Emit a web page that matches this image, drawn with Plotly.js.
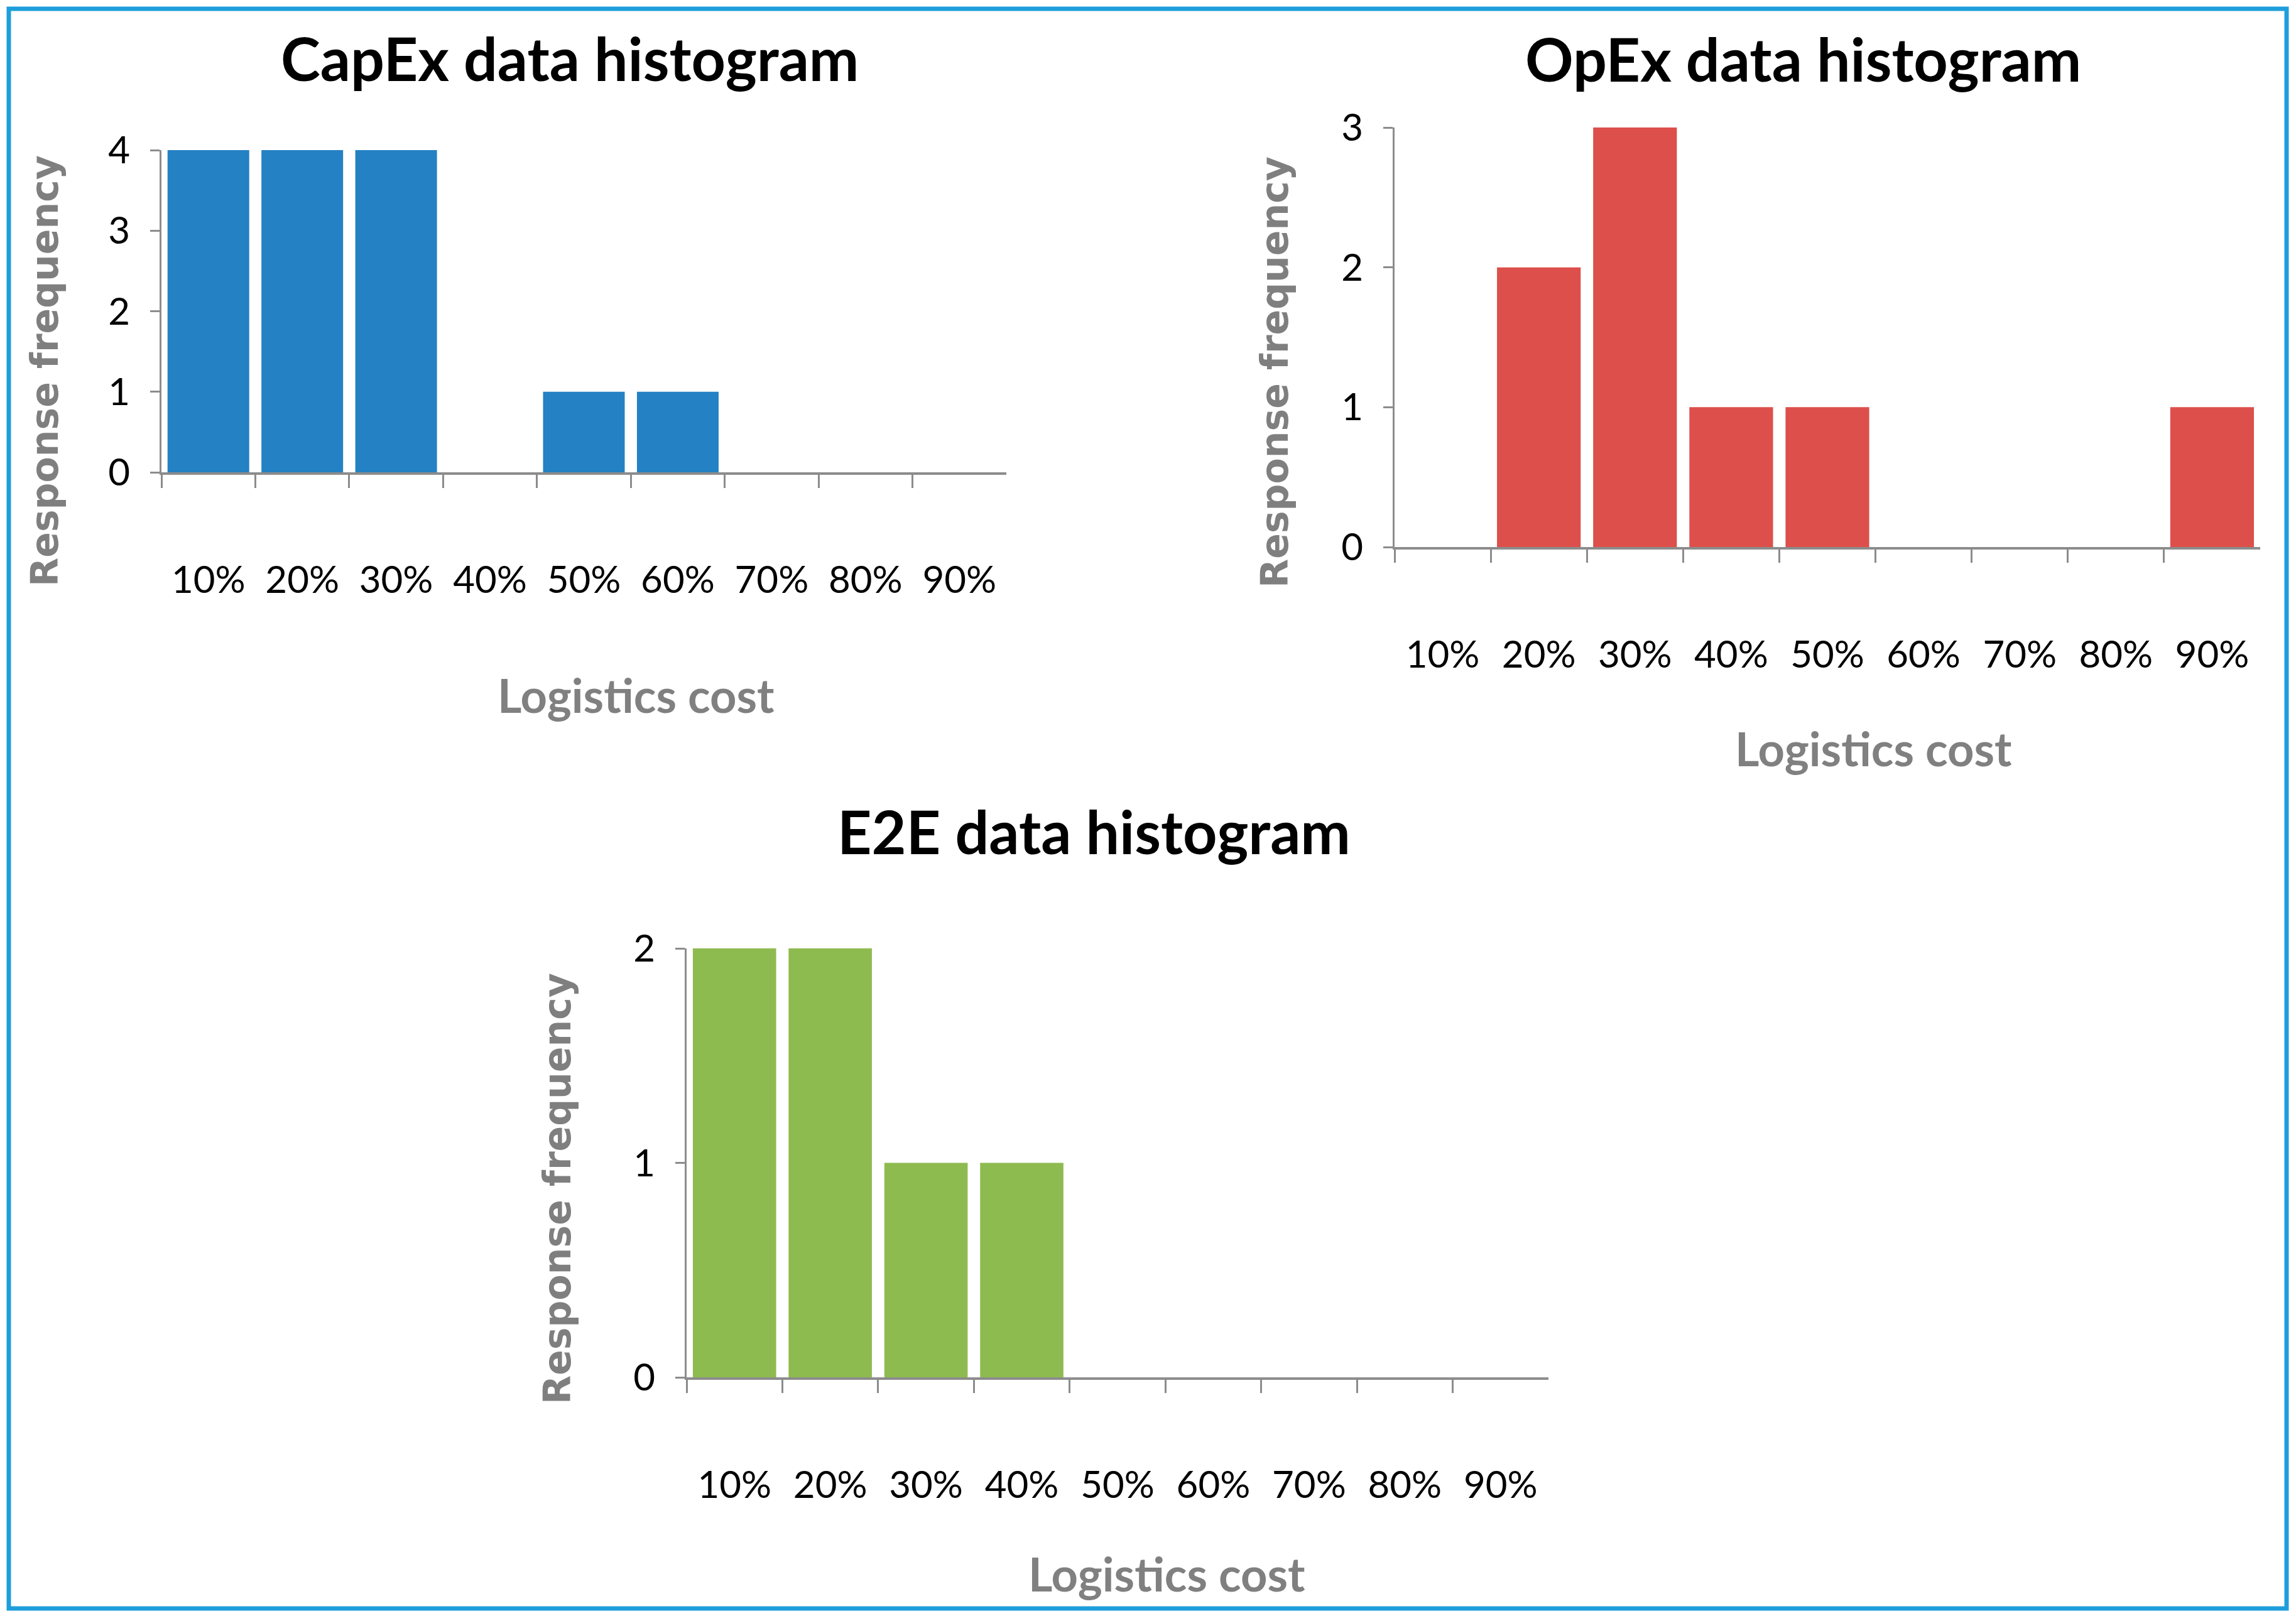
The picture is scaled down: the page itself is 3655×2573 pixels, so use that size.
<!DOCTYPE html>
<html>
<head>
<meta charset="utf-8">
<script src="https://cdn.plot.ly/plotly-3.0.1.min.js"></script>
<style>
  html, body { margin: 0; padding: 0; background: #ffffff; }
  #chart { width: 3655px; height: 2573px; }
</style>
</head>
<body>
<div id="chart"></div>
<script>
// ---- data ----
const categories = ['10%', '20%', '30%', '40%', '50%', '60%', '70%', '80%', '90%'];
const capexFreq = [4, 4, 4, 0, 1, 1, 0, 0, 0];
const opexFreq  = [0, 2, 3, 1, 1, 0, 0, 0, 1];
const e2eFreq   = [2, 2, 1, 1, 0, 0, 0, 0, 0];

const chartTitles = ['CapEx data histogram', 'OpEx data histogram', 'E2E data histogram'];
const xTitle = 'Logistics cost';
const yTitle = 'Response frequency';

const colors = ['#2481c3', '#dd4f4b', '#8ebb50'];

// ---- layout helpers ----
const W = 3655, H = 2573;
const px = v => v / W;
const py = v => 1 - v / H;

const pos = categories.map((c, i) => i + 1);
const bounds = pos.map(p => p - 0.5);

const axisGrey = '#8c8c8c';
const tickFont = { family: 'Lato, "Open Sans", sans-serif', size: 60, color: '#000000' };

function xAxis(domain, anchor) {
  return {
    domain: domain, anchor: anchor, range: [0.5, categories.length + 0.5],
    tickmode: 'array', tickvals: pos, ticktext: categories, ticks: '',
    showline: true, linecolor: axisGrey, linewidth: 4,
    showgrid: false, zeroline: false, tickfont: tickFont,
    ticklabelstandoff: 116,
    minor: { tickmode: 'array', tickvals: bounds, ticks: 'outside', ticklen: 21,
             tickwidth: 3, tickcolor: axisGrey, showgrid: false },
    fixedrange: true
  };
}
function yAxis(domain, anchor, maxV) {
  return {
    domain: domain, anchor: anchor, range: [0, maxV],
    tickmode: 'linear', tick0: 0, dtick: 1,
    ticks: 'outside', ticklen: 15, tickwidth: 3, tickcolor: axisGrey,
    showline: true, linecolor: axisGrey, linewidth: 3,
    showgrid: false, zeroline: false, tickfont: tickFont,
    ticklabelstandoff: 20, fixedrange: true
  };
}

const series = [capexFreq, opexFreq, e2eFreq];
const axIds = [['x', 'y'], ['x2', 'y2'], ['x3', 'y3']];
const traces = series.map((vals, i) => ({
  type: 'bar', x: pos, y: vals, xaxis: axIds[i][0], yaxis: axIds[i][1],
  marker: { color: colors[i], line: { width: 0 } }, name: chartTitles[i],
  hoverinfo: 'skip'
}));

// plot areas (pixel boxes measured from reference)
const boxes = [
  { x0: 257, x1: 1602, yTop: 239, yBot: 752 },
  { x0: 2220, x1: 3598, yTop: 203, yBot: 871 },
  { x0: 1093, x1: 2465, yTop: 1510, yBot: 2193 }
];

const titleFont = { family: 'Lato, "Open Sans", sans-serif', size: 95, color: '#000000', weight: 'bold' };
const xTitleFont = { family: 'Lato, "Open Sans", sans-serif', size: 74, color: '#808080', weight: 'bold' };
const yTitleFont = { family: '"DejaVu Sans", Verdana, sans-serif', size: 60, color: '#7f7f7f', weight: 'bold' };

const titlePos  = [[907, 92], [2870, 93], [1741, 1323]];
const xTitlePos = [[1012, 1106], [2982, 1192], [1858, 2505]];
const yTitlePos = [[71, 591], [2029, 593], [887, 1893]];

const annotations = [];
for (let i = 0; i < 3; i++) {
  annotations.push({ xref: 'paper', yref: 'paper', x: px(titlePos[i][0]), y: py(titlePos[i][1]),
    xanchor: 'center', yanchor: 'middle', showarrow: false,
    text: '<b>' + chartTitles[i] + '</b>', font: titleFont });
  annotations.push({ xref: 'paper', yref: 'paper', x: px(xTitlePos[i][0]), y: py(xTitlePos[i][1]),
    xanchor: 'center', yanchor: 'middle', showarrow: false,
    text: '<b>' + xTitle + '</b>', font: xTitleFont });
  annotations.push({ xref: 'paper', yref: 'paper', x: px(yTitlePos[i][0]), y: py(yTitlePos[i][1]),
    xanchor: 'center', yanchor: 'middle', showarrow: false, textangle: -90,
    text: '<b>' + yTitle + '</b>', font: yTitleFont });
}

const layout = {
  width: W, height: H,
  margin: { l: 0, r: 0, t: 0, b: 0, pad: 0 },
  paper_bgcolor: '#ffffff', plot_bgcolor: 'rgba(0,0,0,0)',
  showlegend: false, bargap: 0.13,
  annotations: annotations,
  shapes: [{ type: 'rect', xref: 'paper', yref: 'paper',
    x0: px(14), x1: px(3640), y0: py(2561), y1: py(14),
    line: { color: '#1e9fdb', width: 7 }, fillcolor: 'rgba(0,0,0,0)' }]
};
const maxes = series.map(s => Math.max.apply(null, s));
['', '2', '3'].forEach((s, i) => {
  const b = boxes[i];
  layout['xaxis' + s] = xAxis([px(b.x0), px(b.x1)], 'y' + s);
  layout['yaxis' + s] = yAxis([py(b.yBot), py(b.yTop)], 'x' + s, maxes[i]);
});

Plotly.newPlot('chart', traces, layout, { staticPlot: true, displayModeBar: false });
</script>
</body>
</html>
